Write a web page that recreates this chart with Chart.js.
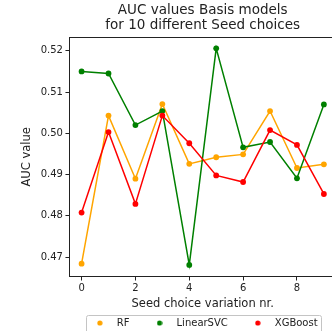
<!DOCTYPE html>
<html>
<head>
<meta charset="utf-8">
<script src="https://cdn.jsdelivr.net/npm/chart.js@4.4.1/dist/chart.umd.min.js"></script>
<style>
  html, body { margin: 0; padding: 0; background: #fff; }
  #wrap { width: 332px; height: 331px; overflow: hidden; }
  canvas { display: block; }
</style>
</head>
<body>
<div id="wrap"><canvas id="auc" width="340" height="338"></canvas></div>
<script>
// seed variations 0..9 and the AUC of each basis model
const seeds = [0, 1, 2, 3, 4, 5, 6, 7, 8, 9];
const rfAuc = [0.4684, 0.5043, 0.4890, 0.5071, 0.4926, 0.4942, 0.4949, 0.5054, 0.4916, 0.4925];
const svcAuc = [0.5150, 0.5145, 0.5020, 0.5054, 0.4681, 0.5206, 0.4966, 0.4979, 0.4891, 0.5070];
const xgbAuc = [0.4808, 0.5003, 0.4829, 0.5043, 0.4976, 0.4898, 0.4882, 0.5008, 0.4972, 0.4853];

const xTicks = [0, 2, 4, 6, 8];
const yTicks = [0.47, 0.48, 0.49, 0.50, 0.51, 0.52];

const FONT = '"DejaVu Sans", sans-serif';
const INK = '#222';

// small round marker used in the legend
function dot(color) {
  const c = document.createElement('canvas');
  c.width = 6; c.height = 6;
  const g = c.getContext('2d');
  g.fillStyle = color;
  g.beginPath();
  g.arc(3, 3, 2.6, 0, Math.PI * 2);
  g.fill();
  return c;
}

function series(label, values, color, order) {
  return {
    label,
    data: seeds.map((s, i) => ({ x: s, y: values[i] })),
    borderColor: color,
    backgroundColor: color,
    borderWidth: 1.5,
    pointRadius: 2.9,
    pointBorderWidth: 0,
    pointBackgroundColor: color,
    legendDot: dot(color),
    order
  };
}

// axes box + legend frame
const framePlugin = {
  id: 'frame',
  beforeDraw(chart) {
    const { ctx, legend } = chart;
    const hb = legend.legendHitBoxes;
    if (!hb || !hb.length) return;
    const last = hb[hb.length - 1];
    const left = Math.round(hb[0].left + 12 - 14) + 0.5;
    const right = Math.round(last.left + last.width + 3) + 0.5;
    const top = Math.round(hb[0].top + 5 - 8.5) + 0.5;
    ctx.save();
    ctx.strokeStyle = '#c4c4c4';
    ctx.lineWidth = 1;
    ctx.beginPath();
    ctx.roundRect(left, top, right - left, 30, 2);
    ctx.stroke();
    ctx.restore();
  },
  afterDraw(chart) {
    const { ctx, chartArea: a } = chart;
    ctx.save();
    ctx.strokeStyle = INK;
    ctx.lineWidth = 1;
    ctx.strokeRect(Math.round(a.left) + 0.5, Math.round(a.top) + 0.5,
      Math.round(a.right - a.left), Math.round(a.bottom - a.top));
    ctx.restore();
  }
};

new Chart(document.getElementById('auc'), {
  type: 'line',
  data: {
    datasets: [
      series('RF', rfAuc, 'orange', 3),
      series('LinearSVC', svcAuc, 'green', 2),
      series('XGBoost', xgbAuc, 'red', 1)
    ]
  },
  options: {
    responsive: false,
    animation: false,
    devicePixelRatio: 1,
    layout: { padding: 0 },
    plugins: {
      tooltip: { enabled: false },
      title: {
        display: true,
        fullSize: false,
        text: ['AUC values Basis models', 'for 10 different Seed choices'],
        color: INK,
        font: { family: FONT, size: 13.5, weight: 'normal', lineHeight: 1.1 },
        padding: { top: 3, bottom: 4.5 }
      },
      legend: {
        position: 'bottom',
        fullSize: false,
        labels: {
          color: INK,
          font: { family: FONT, size: 10 },
          usePointStyle: true,
          pointStyleWidth: 24,
          padding: 18,
          sort: (a, b) => a.datasetIndex - b.datasetIndex,
          generateLabels(chart) {
            const items = Chart.defaults.plugins.legend.labels.generateLabels(chart);
            items.forEach(it => {
              it.pointStyle = chart.data.datasets[it.datasetIndex].legendDot;
              it.lineWidth = 0;
            });
            return items;
          }
        }
      }
    },
    scales: {
      x: {
        type: 'linear',
        min: -0.45,
        max: 9.45,
        afterBuildTicks: s => { s.ticks = xTicks.map(v => ({ value: v })); },
        grid: { drawOnChartArea: false, drawTicks: true, tickLength: 4, color: INK },
        border: { display: false },
        ticks: { color: INK, font: { family: FONT, size: 10 }, padding: 2, maxRotation: 0 },
        title: {
          display: true,
          text: 'Seed choice variation nr.',
          color: INK,
          font: { family: FONT, size: 11.5 },
          padding: { top: 1.1, bottom: -11.4 }
        }
      },
      y: {
        min: 0.4653,
        max: 0.5233,
        afterBuildTicks: s => { s.ticks = yTicks.map(v => ({ value: v })); },
        grid: { drawOnChartArea: false, drawTicks: true, tickLength: 4, color: INK },
        border: { display: false },
        ticks: {
          color: INK,
          font: { family: FONT, size: 10 },
          padding: 2.5,
          callback: v => v.toFixed(2)
        },
        title: {
          display: true,
          text: 'AUC value',
          color: INK,
          font: { family: FONT, size: 11.5 },
          padding: { top: 20.6, bottom: 3.8 }
        }
      }
    }
  },
  plugins: [framePlugin]
});
</script>
</body>
</html>
